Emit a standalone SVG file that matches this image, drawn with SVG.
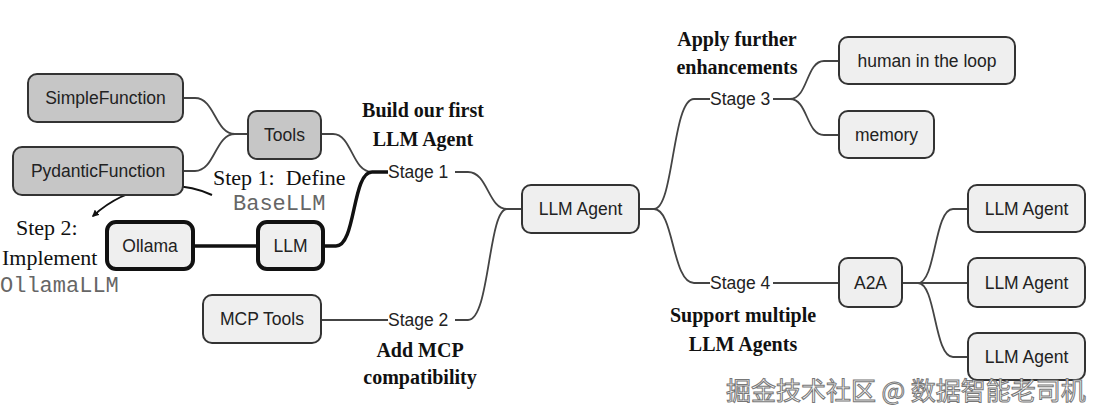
<svg xmlns="http://www.w3.org/2000/svg" width="1100" height="419" viewBox="0 0 1100 419">
<style>
.box{fill:#efefef;stroke:#333;stroke-width:2}
.dark{fill:#c6c6c6;stroke:#333;stroke-width:2}
.thick{fill:#efefef;stroke:#111;stroke-width:4}
.lbl{font-family:"Liberation Sans",Arial,sans-serif;font-size:17.5px;fill:#222;text-anchor:middle}
.stg{font-family:"Liberation Sans",Arial,sans-serif;font-size:17.5px;fill:#222}
.bold{font-family:"Liberation Serif","Times New Roman",serif;font-size:20px;font-weight:bold;fill:#111;text-anchor:middle}
.ser{font-family:"Liberation Serif","Times New Roman",serif;font-size:22px;fill:#111;white-space:pre}
.mono{font-family:"Liberation Mono","Courier New",monospace;font-size:22px;fill:#666}
.c{fill:none;stroke:#444;stroke-width:1.8}
.ck{fill:none;stroke:#111;stroke-width:3.5}
.wm{font-family:"Noto Sans CJK SC",sans-serif;font-size:25px;fill:#fff;stroke:#777;stroke-width:1}
</style>
<defs>
<marker id="ah" viewBox="0 0 10 10" refX="8" refY="5" markerWidth="7" markerHeight="7" orient="auto" markerUnits="userSpaceOnUse">
<path d="M0,0 L10,5 L0,10 z" fill="#111"/>
</marker>
</defs>
<rect width="1100" height="419" fill="#fff"/>
<g id="connectors">
<path class="c" d="M183,98 H195 C215,98 215,134 235,134 H248"/>
<path class="c" d="M183,171 H195 C215,171 215,134 235,134"/>
<path class="c" d="M321,134 H333 C352,134 352,172 372,172"/>
<path class="ck" d="M323,246 H336 C356,246 352,172 372,172 H388"/>
<path class="ck" d="M193,246 H258"/>
<path class="c" d="M321,320 H388"/>
<path class="c" d="M455,172 H468 C488,172 488,209 507,209 H522"/>
<path class="c" d="M455,320 H468 C490,320 488,209 507,209"/>
<path class="c" d="M639,209 H654 C674,209 672,99 694,99 H710"/>
<path class="c" d="M654,209 C674,209 672,283 694,283 H710"/>
<path class="c" d="M773,99 H790 C808,99 806,61 824,61 H839"/>
<path class="c" d="M790,99 C808,99 806,135 824,135 H839"/>
<path class="c" d="M773,283 H839"/>
<path class="c" d="M902,283 H918 C936,283 934,209 953,209 H968"/>
<path class="c" d="M918,283 H968"/>
<path class="c" d="M918,283 C936,283 934,357 953,357 H968"/>
<path fill="none" stroke="#111" stroke-width="2" marker-end="url(#ah)" d="M212,195 C180,180 130,182 93,216"/>
</g>
<g id="n-simplefunction"><rect class="dark" x="28" y="74" width="155" height="48" rx="9"/><text class="lbl" x="105.5" y="104">SimpleFunction</text></g>
<g id="n-pydanticfunction"><rect class="dark" x="13" y="147" width="170" height="48" rx="9"/><text class="lbl" x="98" y="177">PydanticFunction</text></g>
<g id="n-tools"><rect class="dark" x="248" y="111" width="73" height="48" rx="9"/><text class="lbl" x="284.5" y="141">Tools</text></g>
<g id="n-ollama"><rect class="thick" x="107" y="222" width="86" height="47" rx="9"/><text class="lbl" x="150" y="252">Ollama</text></g>
<g id="n-llm"><rect class="thick" x="258" y="222" width="65" height="47" rx="9"/><text class="lbl" x="290.5" y="252">LLM</text></g>
<g id="n-mcptools"><rect class="box" x="203" y="295" width="118" height="48" rx="9"/><text class="lbl" x="262" y="325">MCP Tools</text></g>
<g id="n-llmagent"><rect class="box" x="522" y="185" width="117" height="48" rx="9"/><text class="lbl" x="580.5" y="215">LLM Agent</text></g>
<g id="n-human"><rect class="box" x="839" y="37" width="176" height="47" rx="9"/><text class="lbl" x="927" y="67">human in the loop</text></g>
<g id="n-memory"><rect class="box" x="839" y="111" width="95" height="47" rx="9"/><text class="lbl" x="886.5" y="141">memory</text></g>
<g id="n-a2a"><rect class="box" x="839" y="258" width="63" height="49" rx="9"/><text class="lbl" x="870.5" y="289">A2A</text></g>
<g id="n-agent1"><rect class="box" x="968" y="185" width="117" height="47" rx="9"/><text class="lbl" x="1026.5" y="215">LLM Agent</text></g>
<g id="n-agent2"><rect class="box" x="968" y="258" width="117" height="49" rx="9"/><text class="lbl" x="1026.5" y="289">LLM Agent</text></g>
<g id="n-agent3"><rect class="box" x="968" y="333" width="117" height="47" rx="9"/><text class="lbl" x="1026.5" y="363">LLM Agent</text></g>
<g id="stages">
<text class="stg" x="388" y="178">Stage 1</text>
<text class="stg" x="388" y="326">Stage 2</text>
<text class="stg" x="710" y="105">Stage 3</text>
<text class="stg" x="710" y="289">Stage 4</text>
</g>
<g id="annotations">
<text class="bold" x="423" y="117">Build our first</text>
<text class="bold" x="423" y="146">LLM Agent</text>
<text class="bold" x="420" y="357">Add MCP</text>
<text class="bold" x="420" y="384">compatibility</text>
<text class="bold" x="737" y="46">Apply further</text>
<text class="bold" x="737" y="74">enhancements</text>
<text class="bold" x="743" y="322">Support multiple</text>
<text class="bold" x="743" y="351">LLM Agents</text>
<text class="ser" x="213" y="185">Step 1:  Define</text>
<text class="mono" x="233" y="210">BaseLLM</text>
<text class="ser" x="16" y="235">Step 2:</text>
<text class="ser" x="2" y="265">Implement</text>
<text class="mono" x="0" y="292">OllamaLLM</text>
</g>
<text class="wm" x="726" y="400">掘金技术社区 @ 数据智能老司机</text>
</svg>
